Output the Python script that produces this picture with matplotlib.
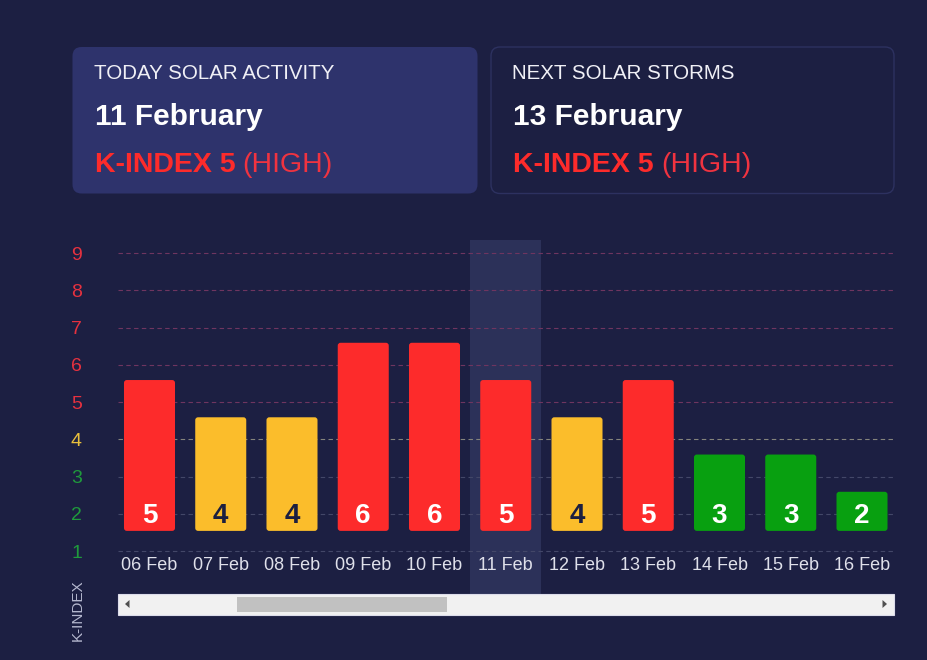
import matplotlib.pyplot as plt
from matplotlib.patches import FancyBboxPatch, Rectangle, Polygon

plt.rcParams['font.family'] = ['Liberation Sans', 'DejaVu Sans']

# data
dates = ["06 Feb", "07 Feb", "08 Feb", "09 Feb", "10 Feb", "11 Feb",
         "12 Feb", "13 Feb", "14 Feb", "15 Feb", "16 Feb"]
kindex = [5, 4, 4, 6, 6, 5, 4, 5, 3, 3, 2]
today_pos = 5
levels = [1, 2, 3, 4, 5, 6, 7, 8, 9]

card_titles = ["TODAY SOLAR ACTIVITY", "NEXT SOLAR STORMS"]
card_dates = ["11 February", "13 February"]
card_k = [5, 5]
card_level = ["HIGH", "HIGH"]

# colours
BG = '#1c1f42'
RED = '#fd2b2b'
YELLOW = '#fbbd2b'
GREEN = '#08a010'


def bar_color(k):
    if k >= 5:
        return RED
    if k == 4:
        return YELLOW
    return GREEN


def tick_color(k):
    if k >= 5:
        return '#e5313f'
    if k == 4:
        return '#e9bf3c'
    return '#1f9a3c'


def grid_color(k):
    if k >= 5:
        return '#6f3560'
    if k == 4:
        return '#85847c'
    return '#434768'


fig = plt.figure(figsize=(9.28, 6.6), dpi=100, facecolor=BG)

W, H = 928, 660
# chart area in pixels: x 118..894, y 240..594
ax = fig.add_axes([118 / W, (H - 594) / H, (894 - 118) / W, (594 - 240) / H])
ax.set_facecolor('none')
ax.set_xlim(-0.442, 10.449)
ax.set_ylim(-0.154, 9.349)
for s in ax.spines.values():
    s.set_visible(False)

ax.axvspan(today_pos - 0.5, today_pos + 0.5, color='#2c3159', zorder=0.5, lw=0)

for lv in levels:
    ax.axhline(lv, color=grid_color(lv), lw=0.8, ls=(0, (4, 3)), zorder=1)

base = 1.54
xs = list(range(len(dates)))
heights = [k + 0.59 - base for k in kindex]
bars = ax.bar(xs, heights, bottom=base, width=0.716,
              color=[bar_color(k) for k in kindex], zorder=2)

# slightly rounded bar corners
for b in bars:
    b.set_visible(False)
    ax.add_patch(FancyBboxPatch((b.get_x(), b.get_y()), b.get_width(), b.get_height(),
                                boxstyle="round,pad=0,rounding_size=0.04",
                                mutation_aspect=1.9, fc=b.get_facecolor(),
                                ec='none', zorder=2))

for i, (d, k) in enumerate(zip(dates, kindex)):
    ax.text(i, 1.75, str(k), ha='center', va='baseline', fontsize=20,
            fontweight='bold', color='#1c1f40' if k == 4 else 'white', zorder=3)
    ax.text(i, 0.49, d, ha='center', va='baseline', fontsize=13,
            color='#dfe0ea', zorder=3)

ax.set_xticks([])
ax.set_yticks(levels)
ax.set_yticklabels([str(v) for v in levels])
ax.tick_params(axis='y', length=0, pad=26, labelsize=14)
for lbl, lv in zip(ax.get_yticklabels(), levels):
    lbl.set_color(tick_color(lv))

# overlay in pixel coords for cards, scrollbar, axis title
ov = fig.add_axes([0, 0, 1, 1])
ov.set_xlim(0, W)
ov.set_ylim(H, 0)
ov.axis('off')
ov.patch.set_alpha(0)

card_x = [72.5, 491]
card_w = [405, 403]
card_fc = ['#2e336c', BG]
card_ec = ['none', '#2d3160']
renderer = fig.canvas.get_renderer()
for i in range(2):
    ov.add_patch(FancyBboxPatch((card_x[i], 47), card_w[i], 146.5,
                                boxstyle="round,pad=0,rounding_size=9",
                                fc=card_fc[i], ec=card_ec[i], lw=1))
    tx = card_x[i] + 21.5
    ov.text(tx, 79, card_titles[i], color='#f0f0f6', fontsize=14.8, va='baseline')
    ov.text(tx + 1, 125, card_dates[i], color='white', fontsize=21.5,
            fontweight='bold', va='baseline')
    t1 = ov.text(tx + 1, 172, "K-INDEX %d" % card_k[i], color=RED, fontsize=20.5,
                 fontweight='bold', va='baseline')
    bb = t1.get_window_extent(renderer)
    x_end = ov.transData.inverted().transform((bb.x1, 0))[0]
    ov.text(x_end + 7, 172, "(%s)" % card_level[i], color='#f03340', fontsize=20.5,
            va='baseline')

# scrollbar
ov.add_patch(Rectangle((118, 593.5), 776, 21, fc='#f1f1f1', ec='#dcdcea', lw=0.8))
ov.add_patch(Rectangle((237, 596.5), 210, 15.5, fc='#c1c1c1', ec='none'))
ov.add_patch(Polygon([(125, 604), (129.5, 600), (129.5, 608)], fc='#505050', ec='none'))
ov.add_patch(Polygon([(887, 604), (882.5, 600), (882.5, 608)], fc='#505050', ec='none'))

ov.text(78, 610, "K-INDEX", rotation=90, ha='center', va='center',
        color='#b5b8cf', fontsize=11)

fig.savefig('out.png', dpi=100, facecolor=BG)
